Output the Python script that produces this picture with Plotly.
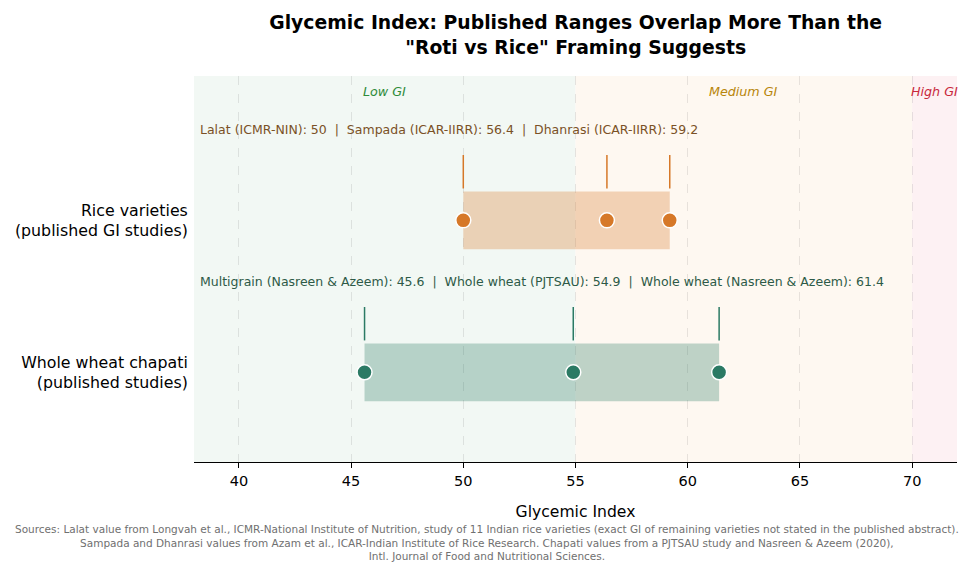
import plotly.graph_objects as go

# data
groups = ["Whole wheat chapati<br>(published studies)", "Rice varieties<br>(published GI studies)"]
rice_names = ["Lalat (ICMR-NIN)", "Sampada (ICAR-IIRR)", "Dhanrasi (ICAR-IIRR)"]
rice_gi = [50, 56.4, 59.2]
wheat_names = ["Multigrain (Nasreen & Azeem)", "Whole wheat (PJTSAU)", "Whole wheat (Nasreen & Azeem)"]
wheat_gi = [45.6, 54.9, 61.4]
gi_bands = [("Low GI", 38, 55), ("Medium GI", 55, 70), ("High GI", 70, 72)]
x_ticks = [40, 45, 50, 55, 60, 65, 70]

FONT = "DejaVu Sans"
rice_col = "#D67828"
wheat_col = "#2B7A64"
band_fill = ["#F2F8F4", "#FEF8F1", "#FDF1F3"]
band_text = ["#2E8B3A", "#B8860B", "#C8283C"]

fig = go.Figure()

# background bands
for (name, lo, hi), fc, tc in zip(gi_bands, band_fill, band_text):
    fig.add_vrect(x0=lo, x1=hi, fillcolor=fc, opacity=1, line_width=0, layer="below")
    fig.add_annotation(x=(lo + hi) / 2, y=1.85, text=f"<i>{name}</i>", showarrow=False,
                       font=dict(family=FONT, size=12.7, color=tc))

rows = [
    (1, rice_names, rice_gi, rice_col, "rgba(214,120,40,0.3)", "#7A5126"),
    (0, wheat_names, wheat_gi, wheat_col, "rgba(43,122,100,0.3)", "#2D5A47"),
]

for yv, names, vals, col, fill, tcol in rows:
    lo, hi = min(vals), max(vals)
    fig.add_trace(go.Bar(y=[yv], x=[hi - lo], base=[lo], orientation="h", width=0.38,
                         marker=dict(color=fill, line_width=0), showlegend=False,
                         hoverinfo="skip"))
    # tick marks above the bar
    xs, ys = [], []
    for v in vals:
        xs += [v, v, None]
        ys += [yv + 0.21, yv + 0.43, None]
    fig.add_trace(go.Scatter(x=xs, y=ys, mode="lines", line=dict(color=col, width=1.5),
                             showlegend=False, hoverinfo="skip"))
    fig.add_trace(go.Scatter(x=vals, y=[yv] * len(vals), mode="markers",
                             marker=dict(color=col, size=15, line=dict(color="white", width=1.5)),
                             text=names, showlegend=False))
    label = "  |  ".join(f"{n}: {v:g}" for n, v in zip(names, vals))
    fig.add_annotation(x=38.2, y=yv + 0.6, text=label, showarrow=False, xanchor="left",
                       font=dict(family=FONT, size=12.5, color=tcol))

fig.add_annotation(
    x=0.384, y=-0.152, xref="paper", yref="paper", xanchor="center", yanchor="top",
    text="Sources: Lalat value from Longvah et al., ICMR-National Institute of Nutrition, study of 11 Indian rice varieties (exact GI of remaining varieties not stated in the published abstract).<br>"
         "Sampada and Dhanrasi values from Azam et al., ICAR-Indian Institute of Rice Research. Chapati values from a PJTSAU study and Nasreen & Azeem (2020),<br>"
         "Intl. Journal of Food and Nutritional Sciences.",
    showarrow=False, font=dict(family=FONT, size=10.5, color="#707070"))

fig.update_layout(
    width=967, height=555,
    margin=dict(l=186, r=18, t=68, b=101),
    plot_bgcolor="white", paper_bgcolor="white",
    font=dict(family=FONT, size=14, color="black"),
    title=dict(text="<b>Glycemic Index: Published Ranges Overlap More Than the<br>\"Roti vs Rice\" Framing Suggests</b>",
               x=0.587, xanchor="center", y=0.962, yanchor="top",
               font=dict(family=FONT, size=18.8)),
    xaxis=dict(range=[38, 72], tickvals=x_ticks, showgrid=True, gridcolor="rgba(0,0,0,0.09)",
               griddash="dash", gridwidth=1, showline=True, linecolor="black", linewidth=1.2,
               ticks="outside", ticklen=5, tickcolor="black", zeroline=False,
               title=dict(text="Glycemic Index", font=dict(size=15.6), standoff=18),
               tickfont=dict(size=14.5)),
    yaxis=dict(range=[-0.59, 1.95], tickvals=[0, 1], ticktext=groups, showgrid=False,
               zeroline=False, showline=False, ticks="outside", ticklen=2, automargin=False,
               tickcolor="rgba(0,0,0,0)", tickfont=dict(size=15.8)),
)

fig.write_html("out.html")
